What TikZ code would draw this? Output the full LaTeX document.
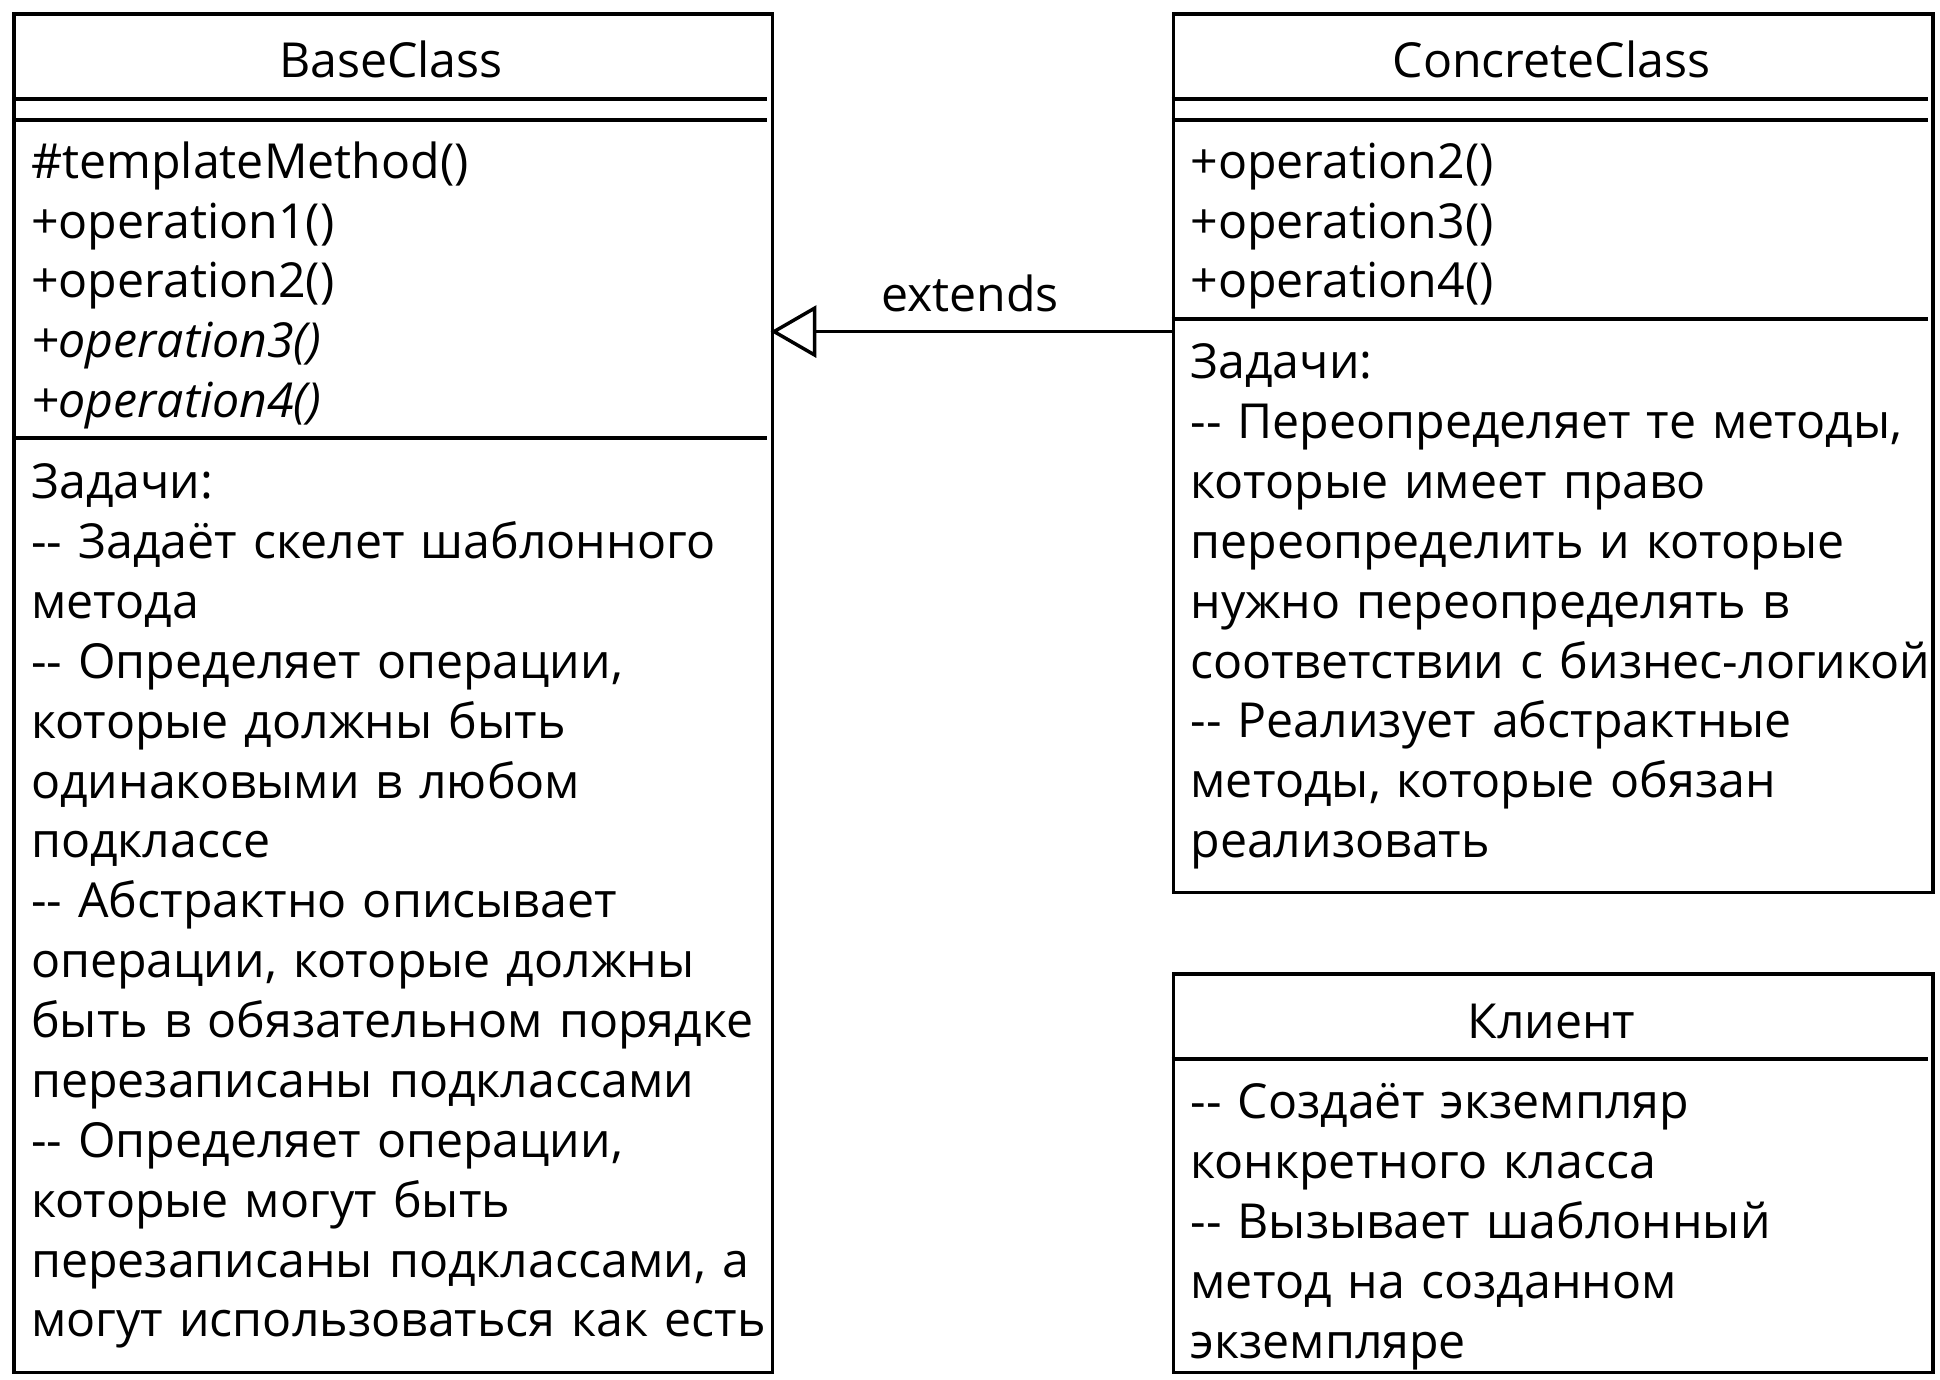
\documentclass[tikz,border=0pt]{standalone}
\usepackage{fontspec}
\setmainfont{Open Sans}
\usetikzlibrary{arrows.meta}
\newcommand{\umlfont}{\fontsize{39}{48.4}\selectfont\spaceskip=0.17em\relax}
\begin{document}
\begin{tikzpicture}[x=1pt,y=-1pt,
  box/.style={draw, line width=2.8pt, anchor=north west, inner sep=0pt},
  sep/.style={line width=2.8pt},
  txt/.style={anchor=base west, inner sep=0pt, text width=620pt, align=left,
    font=\umlfont},
  ttl/.style={anchor=base, inner sep=0pt, font=\umlfont}]
\useasboundingbox (0,0) rectangle (1568,1115);
% BaseClass
\node[box, minimum width=613pt, minimum height=1098pt] (base) at (10,10) {};
\node[ttl] (basename) at (316,63) {BaseClass};
\draw[sep] (10,80) -- (620,80);
\draw[sep] (10,97) -- (620,97);
\draw[sep] (10,354) -- (620,354);
\node[txt] (basemeth) at (25,144) {\#templateMethod()\\+operation1()\\+operation2()\\\itshape +operation3()\\\itshape +operation4()};
\node[txt] (basetask) at (25,403) {Задачи:\\-{}- Задаёт скелет шаблонного\\метода\\-{}- Определяет операции,\\которые должны быть\\одинаковыми в любом\\подклассе\\-{}- Абстрактно описывает\\операции, которые должны\\быть в обязательном порядке\\перезаписаны подклассами\\-{}- Определяет операции,\\которые могут быть\\перезаписаны подклассами, а\\могут использоваться как есть};
% ConcreteClass
\node[box, minimum width=614pt, minimum height=710pt] (concrete) at (947,10) {};
\node[ttl] (concname) at (1254,63) {ConcreteClass};
\draw[sep] (947,80) -- (1558,80);
\draw[sep] (947,97) -- (1558,97);
\draw[sep] (947,258) -- (1558,258);
\node[txt] (concmeth) at (962,144) {+operation2()\\+operation3()\\+operation4()};
\node[txt] (conctask) at (962,306) {Задачи:\\-{}- Переопределяет те методы,\\которые имеет право\\переопределить и которые\\нужно переопределять в\\соответствии с бизнес-логикой\\-{}- Реализует абстрактные\\методы, которые обязан\\реализовать};
% Client
\node[box, minimum width=614pt, minimum height=322pt] (client) at (947,786) {};
\node[ttl] (clientname) at (1254,839) {Клиент};
\draw[sep] (947,856) -- (1558,856);
\node[txt] (clienttask) at (962,904) {-{}- Создаёт экземпляр\\конкретного класса\\-{}- Вызывает шаблонный\\метод на созданном\\экземпляре};
% extends
\coordinate (ay) at (0,268);
\draw[line width=2.8pt, shorten >=-3pt, -{Triangle[open, length=37pt, width=42pt]}] (concrete.west |- ay) -- (base.east |- ay);
\node[ttl] (ext) at (784,252) {extends};
\end{tikzpicture}
\end{document}
